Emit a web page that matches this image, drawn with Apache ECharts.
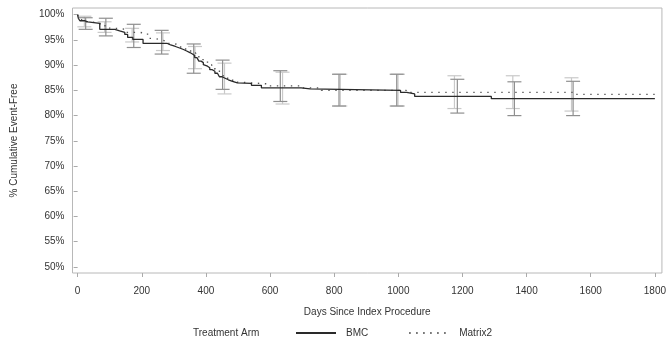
<!DOCTYPE html>
<html><head><meta charset="utf-8">
<script src="https://cdn.jsdelivr.net/npm/echarts@6/dist/echarts.min.js"></script>
<style>html,body{margin:0;padding:0;background:#fff}#c{width:669px;height:341px}</style>
</head><body><div id="c"></div>
<script>
// Kaplan-Meier step points (day, % event-free)
const bmcDays = [0,2,7,23,32,69,116,131,147,156,172,204,280,290,305,318,330,340,350,358,365,372,378,385,392,398,405,412,420,428,436,442,450,460,470,483,498,542,573,697,725,1007,1026,1051,1290,1800];
const bmcSurv = [100,99.3,98.8,98.6,98.3,97.1,96.8,96.5,96.1,95.5,95.1,94.3,94.0,93.7,93.4,93.1,92.8,92.5,92.2,91.9,91.5,91.2,90.8,90.5,90.1,89.8,89.5,89.1,88.8,88.4,88.1,87.7,87.4,87.1,86.8,86.5,86.4,86.0,85.5,85.3,85.0,84.6,84.3,83.8,83.35,83.35];
const matDays = [0,5,13,40,70,100,116,152,193,218,240,262,278,300,315,332,345,358,368,378,388,398,408,418,428,437,446,452,462,475,490,510,590,697,760,1025,1547,1800];
const matSurv = [100,99.0,98.6,98.3,97.8,97.3,97.1,96.5,96.3,95.3,95.0,94.7,94.3,94.0,93.6,93.2,92.8,92.4,92.0,91.5,91.1,90.6,90.1,89.6,89.2,88.8,88.4,87.9,87.4,87.0,86.6,86.3,85.9,85.5,85.0,84.6,84.2,84.2];
// 95% confidence bars
const bmcCiDays = [25,88,175,262,362,452,632,815,995,1184,1362,1545];
const bmcCiLow  = [97.1,95.8,93.5,92.2,88.4,85.2,82.8,81.9,81.9,80.5,80.0,80.0];
const bmcCiHigh = [99.4,99.3,98.1,96.9,94.2,91.0,88.9,88.2,88.2,87.2,86.7,86.8];
const matCiDays = [21,84,170,266,366,458,639,819,999,1175,1357,1540];
const matCiLow  = [97.6,96.5,94.6,92.9,89.3,84.3,82.3,81.9,81.9,81.4,81.4,80.9];
const matCiHigh = [99.7,98.6,97.3,96.4,93.7,90.4,88.6,88.2,88.2,87.9,87.9,87.5];
// axis ticks
const xTicks = [0,200,400,600,800,1000,1200,1400,1600,1800];
const yTicks = [50,55,60,65,70,75,80,85,90,95,100];

const zip = (a,b) => a.map((v,i)=>[v,b[i]]);
const zip3 = (a,b,c) => a.map((v,i)=>[v,b[i],c[i]]);
const FONT = '"Liberation Sans", Arial, sans-serif';
const TXT = '#333';

function renderErr(params, api){
  const x = api.value(0), lo = api.value(1), hi = api.value(2);
  const pLo = api.coord([x, lo]), pHi = api.coord([x, hi]);
  const w = 7;
  const style = {stroke: api.visual('color'), lineWidth: 1.2, fill: null};
  return {type:'group', children:[
    {type:'line', shape:{x1:pHi[0], y1:pHi[1], x2:pLo[0], y2:pLo[1]}, style},
    {type:'line', shape:{x1:pHi[0]-w, y1:pHi[1], x2:pHi[0]+w, y2:pHi[1]}, style},
    {type:'line', shape:{x1:pLo[0]-w, y1:pLo[1], x2:pLo[0]+w, y2:pLo[1]}, style}
  ]};
}

const chart = echarts.init(document.getElementById('c'), null, {renderer:'canvas'});
chart.setOption({
  animation:false,
  backgroundColor:'#fff',
  textStyle:{fontFamily:FONT},
  grid:{left:72.5, right:5, top:8, bottom:68, show:true, borderColor:'#b8b8b8', borderWidth:1},
  title:{text:'Treatment Arm', left:193, top:328, padding:0, textStyle:{fontFamily:FONT, fontSize:10, fontWeight:'normal', color:TXT}},
  legend:{left:295, top:328, padding:0, itemWidth:40, itemHeight:10, itemGap:40,
    itemStyle:{opacity:0},
    data:['BMC','Matrix2'],
    textStyle:{fontFamily:FONT, fontSize:10, color:TXT, padding:[0,0,0,5]}},
  xAxis:{type:'value', min:-16, max:1822,
    name:'Days Since Index Procedure', nameLocation:'middle', nameGap:34,
    nameTextStyle:{fontFamily:FONT, fontSize:10, color:TXT},
    axisLine:{show:false}, splitLine:{show:false},
    axisTick:{show:true, length:4, customValues:xTicks, lineStyle:{color:'#aaa'}},
    axisLabel:{customValues:xTicks, fontFamily:FONT, fontSize:10, color:TXT, margin:13, formatter:v=>String(v)}},
  yAxis:{type:'value', min:48.8, max:101.33,
    name:'% Cumulative Event-Free', nameLocation:'middle', nameGap:53,
    nameTextStyle:{fontFamily:FONT, fontSize:10, color:TXT},
    axisLine:{show:false}, splitLine:{show:false},
    axisTick:{show:true, length:4, customValues:yTicks, lineStyle:{color:'#aaa'}},
    axisLabel:{customValues:yTicks, fontFamily:FONT, fontSize:10, color:TXT, margin:8, formatter:v=>v+'%'}},
  series:[
    {name:'Matrix2 CI', type:'custom', renderItem:renderErr, itemStyle:{color:'#c9c9c9'},
     encode:{x:0, y:[1,2]}, data:zip3(matCiDays, matCiLow, matCiHigh), z:1},
    {name:'BMC CI', type:'custom', renderItem:renderErr, itemStyle:{color:'#8f8f8f'},
     encode:{x:0, y:[1,2]}, data:zip3(bmcCiDays, bmcCiLow, bmcCiHigh), z:2},
    {name:'Matrix2', type:'line', step:'end', symbol:'none', showSymbol:false, z:3,
     itemStyle:{color:'#555'}, lineStyle:{color:'#555', width:1.4, type:[1.4,5.6]},
     data:zip(matDays, matSurv)},
    {name:'BMC', type:'line', step:'end', symbol:'none', showSymbol:false, z:4,
     itemStyle:{color:'#2a2a2a'}, lineStyle:{color:'#2a2a2a', width:1.3},
     data:zip(bmcDays, bmcSurv)}
  ]
});
</script></body></html>
